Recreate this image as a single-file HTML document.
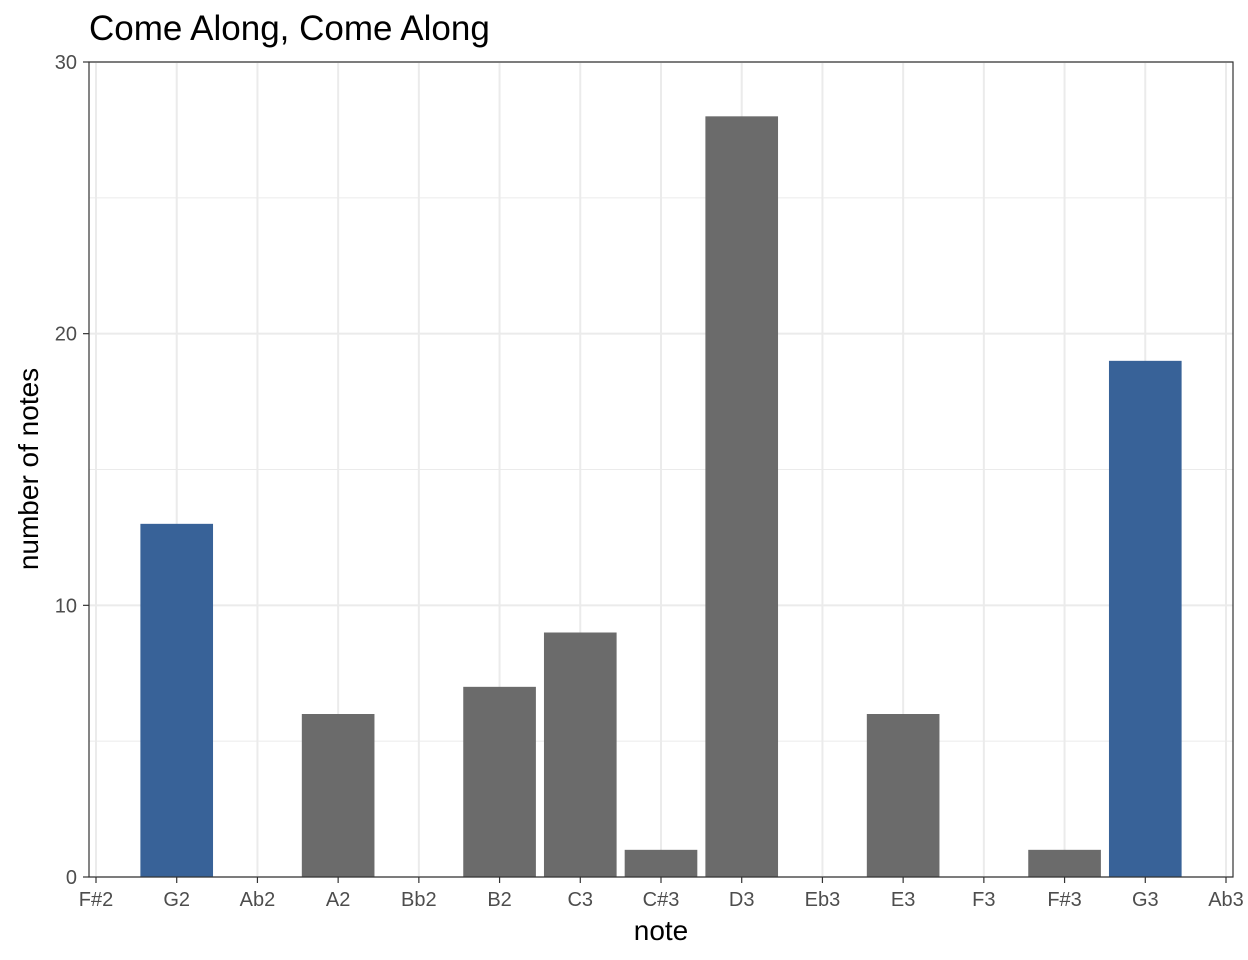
<!DOCTYPE html>
<html><head><meta charset="utf-8"><style>
body{margin:0;background:#fff;}
svg{display:block;font-family:"Liberation Sans",Arial,sans-serif;}
</style></head><body>
<svg id="chart" width="1248" height="960" viewBox="0 0 1248 960">
<text x="89" y="40" font-size="35" fill="#000">Come Along, Come Along</text>
<g id="grid"></g><g id="bars"></g><g id="axes"></g>
<rect x="89" y="62" width="1144" height="815" fill="none" stroke="#333" stroke-width="1.2"/>
<text x="661" y="940" font-size="28" text-anchor="middle" fill="#000">note</text>
<text transform="translate(38,469) rotate(-90)" font-size="28" text-anchor="middle" fill="#000">number of notes</text>
</svg>
<script>
const categories=["F#2","G2","Ab2","A2","Bb2","B2","C3","C#3","D3","Eb3","E3","F3","F#3","G3","Ab3"];
const counts=[0,13,0,6,0,7,9,1,28,0,6,0,1,19,0];
const highlighted=["G2","G3"];
const yTicks=[0,10,20,30];
const yMinor=[5,15,25];
const NS="http://www.w3.org/2000/svg";
const x0=96,step=(1226-96)/14,bw=step*0.9;
const xs=i=>x0+i*step;
const ys=v=>877-v*(815/30);
function mk(tag,attrs,parent){const e=document.createElementNS(NS,tag);for(const k in attrs)e.setAttribute(k,attrs[k]);document.getElementById(parent).appendChild(e);return e;}
yMinor.forEach(v=>{const l=mk('line',{x1:89,x2:1233,y1:ys(v),y2:ys(v),stroke:'#ebebeb','stroke-width':1},'grid');

});
yTicks.forEach(v=>{const l=mk('line',{x1:89,x2:1233,y1:ys(v),y2:ys(v),stroke:'#ebebeb','stroke-width':2},'grid');


const t=mk('line',{x1:83,x2:89,y1:ys(v),y2:ys(v),stroke:'#333','stroke-width':1.2},'axes');


const tx=mk('text',{x:77,y:ys(v)+7,'font-size':20,'text-anchor':'end',fill:'#4d4d4d'},'axes');tx.textContent=v;

});
categories.forEach((c,i)=>{const l=mk('line',{x1:xs(i),x2:xs(i),y1:62,y2:877,stroke:'#ebebeb','stroke-width':2},'grid');


if(counts[i]>0){const b=mk('rect',{x:xs(i)-bw/2,y:ys(counts[i]),width:bw,height:ys(0)-ys(counts[i]),fill:highlighted.includes(c)?'#386298':'#6b6b6b'},'bars');

}
const t=mk('line',{x1:xs(i),x2:xs(i),y1:877,y2:883,stroke:'#333','stroke-width':1.2},'axes');


const tx=mk('text',{x:xs(i),y:906,'font-size':20,'text-anchor':'middle',fill:'#4d4d4d'},'axes');tx.textContent=c;

});
</script>
</body></html>
